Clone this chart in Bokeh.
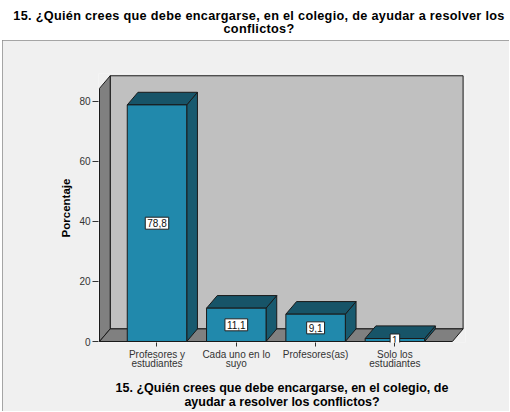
from bokeh.plotting import figure
from bokeh.models import Range1d, FixedTicker, Label, Div
from bokeh.layouts import column
from bokeh.embed import file_html
from bokeh.resources import INLINE

# ---- data ----
categories = ["Profesores y\nestudiantes", "Cada uno en lo\nsuyo", "Profesores(as)", "Solo los\nestudiantes"]
percentages = [78.8, 11.1, 9.1, 1.0]
value_labels = ["78,8", "11,1", "9,1", "1"]
y_ticks = [0, 20, 40, 60, 80]

title_text = "15. ¿Quién crees que debe encargarse, en el colegio, de ayudar a resolver los<br>conflictos?"
x_title = "15. ¿Quién crees que debe encargarse, en el colegio, de\nayudar a resolver los conflictos?"
y_title = "Porcentaje"

# ---- styling / geometry ----
FONT = "Liberation Sans"
FRONT = "#2189ac"
TOP = "#175468"
SIDE = "#185a6f"
EDGE = "#1a1a1a"
positions = list(range(1, len(categories) + 1))
half = 0.375
DX, DY = 0.135, 4.2
x0, x1, wall_top = 0.275, 4.725, 84.3

p = figure(width=507, height=371,
           x_range=Range1d(0.2623, 4.8903), y_range=Range1d(-0.3306, 89.256),
           output_backend="svg", toolbar_location=None,
           min_border_left=96, min_border_right=44, min_border_top=33, min_border_bottom=67,
           margin=(0, 1, 0, 2),
           styles={"outline": "1px solid #8c8c8c", "outline-offset": "-1px"})
p.background_fill_color = "#f0f0f0"
p.border_fill_color = "#f0f0f0"
p.outline_line_color = None
p.grid.visible = False

# walls and floor
p.patches(xs=[[x0 + DX, x1 + DX, x1 + DX, x0 + DX],
              [x0, x0 + DX, x0 + DX, x0],
              [x0, x1, x1 + DX, x0 + DX]],
          ys=[[DY, DY, wall_top + DY, wall_top + DY],
              [0, DY, wall_top + DY, wall_top],
              [0, 0, DY, DY]],
          fill_color=["#c0c0c0", "#808080", "#808080"], line_color=EDGE, line_width=1)

# bars
side_xs, side_ys, top_xs, top_ys = [], [], [], []
for c, v in zip(positions, percentages):
    l, r = c - half, c + half
    side_xs.append([r, r + DX, r + DX, r])
    side_ys.append([0, DY, v + DY, v])
    top_xs.append([l, r, r + DX, l + DX])
    top_ys.append([v, v, v + DY, v + DY])
p.patches(xs=side_xs, ys=side_ys, fill_color=SIDE, line_color=EDGE, line_width=1)
p.patches(xs=top_xs, ys=top_ys, fill_color=TOP, line_color=EDGE, line_width=1)
p.quad(left=[c - half for c in positions], right=[c + half for c in positions],
       bottom=0, top=percentages, fill_color=FRONT, line_color=EDGE, line_width=1)

for c, v, t in zip(positions, percentages, value_labels):
    p.add_layout(Label(x=c, y=v / 2, text=t, text_align="center", text_baseline="middle",
                       text_font=FONT, text_font_size="10px", text_color="#111111",
                       background_fill_color="white", border_line_color="#222222",
                       padding=2))

# axes
p.yaxis.ticker = FixedTicker(ticks=y_ticks)
p.xaxis.ticker = FixedTicker(ticks=positions)
p.xaxis.major_label_overrides = {c: cat for c, cat in zip(positions, categories)}
for ax in (p.xaxis, p.yaxis):
    ax.axis_line_color = None
    ax.minor_tick_line_color = None
    ax.major_tick_in = 0
    ax.major_tick_line_color = "#333333"
    ax.major_label_text_font = FONT
    ax.major_label_text_font_size = "10px"
    ax.major_label_text_color = "#333333"
    ax.major_label_text_line_height = 0.85
    ax.axis_label_text_font = FONT
    ax.axis_label_text_font_style = "bold"
    ax.axis_label_text_color = "#000000"
p.yaxis.major_tick_out = 6
p.yaxis.major_label_standoff = 2
p.yaxis.axis_label = y_title
p.yaxis.axis_label_text_font_size = "11.5px"
p.yaxis.axis_label_standoff = 4
p.xaxis.major_tick_out = 4
p.xaxis.major_label_standoff = 2
p.xaxis.axis_label = x_title
p.xaxis.axis_label_text_font_size = "12.5px"
p.xaxis.axis_label_text_line_height = 1.0
p.xaxis.axis_label_standoff = 9

title = Div(text=('<div style="font-family:\'Liberation Sans\',Arial,sans-serif;font-weight:bold;'
                  'font-size:12.7px;letter-spacing:0.3px;line-height:12.5px;text-align:center;'
                  'color:#000;padding-top:10px;padding-left:8px;box-sizing:border-box;'
                  'white-space:nowrap;width:510px;">' + title_text + '</div>'),
            width=510, height=40, margin=0)

layout = column(title, p, spacing=0)
open("out.html", "w").write(file_html(layout, INLINE))
